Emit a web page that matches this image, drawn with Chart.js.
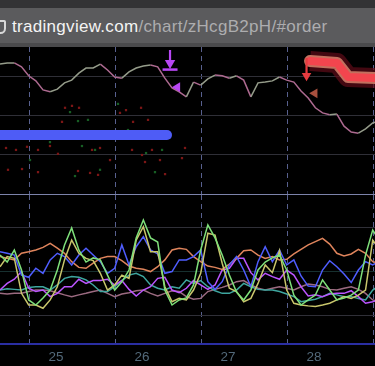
<!DOCTYPE html>
<html><head><meta charset="utf-8">
<script src="https://cdn.jsdelivr.net/npm/chart.js@4"></script>
<style>
html,body{margin:0;padding:0;background:#000;width:375px;height:366px;overflow:hidden}
#bar{position:absolute;left:0;top:0;width:375px;height:47px;background:#333335}
#pill{position:absolute;left:-14px;top:8px;width:400px;height:35px;background:#5b5b5d;border-radius:9px}
#strip{position:absolute;left:0;top:43px;width:375px;height:4px;background:#4a4a4c}
#shield{position:absolute;left:-5px;top:20px;width:7px;height:10px;border:2px solid #d8d8d8;border-radius:2px 2px 6px 6px}
#url{position:absolute;left:12px;top:17px;font-family:"Liberation Sans",Arial,sans-serif;font-size:17px;line-height:20px;letter-spacing:0.3px;color:#adadaf;white-space:nowrap}
#url span{color:#f4f4f4}
#w1{position:absolute;left:0;top:47px;width:375px;height:148px}
#w2{position:absolute;left:0;top:195px;width:375px;height:171px}
</style></head>
<body>
<div id="bar"><div id="pill"></div><div id="strip"></div><div id="shield"></div>
<div id="url"><span>tradingview.com</span>/chart/zHcgB2pH/#order</div></div>
<div id="w1"><canvas id="c1" width="375" height="148"></canvas></div>
<div id="w2"><canvas id="c2" width="375" height="171"></canvas></div>
<script>
// ---- axis / time data ----
const xMin = 24.35, xMax = 28.71;
const sampleStart = 24.35;
const sampleStepDays = 1 / 12;           // 2-hour samples
const dayTicks = [25, 26, 27, 28];
const sessionBreaks = [24.698, 25.698, 26.698, 27.698, 28.698];
const priceGrid = [10, 20, 30];
const oscGrid = [30, 50, 70];

// ---- price pane ----
const price = [33.3,33.6,33.6,32.6,30.3,29.0,26.7,26.2,26.9,28.5,
 29.2,31.0,32.3,32.3,33.3,31.8,30.0,29.7,31.3,32.3,
 32.8,33.1,32.6,29.7,27.2,26.2,24.9,28.7,27.9,29.5,
 30.5,30.3,29.7,30.3,29.2,24.9,28.5,28.7,29.0,30.0,
 29.2,28.7,26.4,24.6,22.1,20.8,20.3,20.5,17.4,15.9,
 15.6,16.7,18.2,18.8];

const blueBarDays = [24.2, 26.292];
const blueBarLevel = [15.13, 15.13];

const redBandDays = [27.955, 28.269, 28.397, 28.769];
const redBandLevel = [34.1, 33.6, 30.0, 29.7];

const magShaftDays = [26.327, 26.327];
const magShaftLevel = [36.9, 34.1];
const magHead = {x: 26.327, y: 33.6};
const magBase = {x: 26.327, y: 31.9};
const magTri = {x: 26.412, y: 27.4};

const redShaftDays = [27.914, 27.914];
const redShaftLevel = [34.9, 30.9];
const redHead = {x: 27.914, y: 30.3};
const redTri = {x: 28.009, y: 25.8};

const speckRedDay = [25.106,25.187,25.269,25.071,25.745,25.815,25.99,25.897,26.071,24.42,24.536,24.664,24.792,24.931,25.024,25.42,25.513,25.885,26.001,26.117,26.21,24.443,24.606,24.792,25.257,25.397,25.49,26.036,26.269,26.466,26.501,25.629];
const speckRedLevel = [22.1,22.6,22.1,18.5,20.8,21.5,22.1,18.5,19.0,11.8,11.3,12.1,11.3,12.3,10.3,11.3,11.8,11.3,10.0,11.3,8.7,6.2,6.4,5.6,5.9,5.4,4.9,8.2,5.1,9.2,11.8,8.7];
const speckGreenDay = [25.164,25.257,25.373,25.303,25.455,24.931,25.722,25.838,26.048,25.513,25.222,26.152,26.234,24.699];
const speckGreenLevel = [21.0,18.7,19.0,12.3,11.3,13.3,23.1,16.4,10.5,6.2,4.6,5.6,11.3,8.7];

// ---- oscillator pane ----
const oscOrange = [57.0,56.2,55.5,58.5,59.2,60.0,61.2,63.0,60.8,58.5,
 54.7,52.1,51.7,54.0,56.2,57.0,57.0,55.2,52.7,51.7,
 51.2,50.2,52.4,55.5,60.0,60.8,60.3,57.0,54.7,52.7,
 52.1,51.2,53.6,56.2,59.7,60.0,57.7,56.2,57.0,55.5,
 55.8,58.2,60.3,62.3,63.8,65.3,62.7,58.5,57.3,58.2,
 60.3,58.5,54.7,53.8];
const oscBlue = [59.2,58.5,57.7,48.6,47.6,51.7,49.4,55.5,58.5,57.0,
 53.2,57.7,60.8,57.7,54.7,49.4,51.7,62.3,53.2,61.5,
 66.1,60.0,58.2,49.4,50.2,55.5,55.5,57.0,60.0,45.6,
 42.1,45.6,53.2,57.0,50.9,43.3,54.7,61.5,54.7,60.0,
 53.2,55.5,48.2,43.6,43.3,50.9,55.1,52.4,49.1,45.2,
 50.9,54.7,53.2,55.0];
const oscLime = [57.7,54.5,60.0,50.9,37.3,35.0,38.2,41.8,50.9,62.3,
 70.0,60.0,54.5,56.4,55.5,48.6,41.8,45.5,50.9,65.5,
 73.6,65.5,63.6,41.8,35.0,37.3,38.2,44.1,60.0,71.4,
 65.5,57.7,48.6,40.9,37.3,41.8,50.9,54.5,56.4,57.7,
 50.9,39.5,35.0,37.3,39.5,46.4,41.8,37.3,38.2,39.5,
 41.8,57.7,69.1,64.0];
const oscOlive = [52.4,57.0,56.2,40.3,35.0,35.0,33.5,37.3,43.3,55.5,
 64.5,58.5,56.2,55.2,49.4,41.8,44.1,48.6,47.1,64.5,
 70.6,59.2,59.2,43.3,36.5,38.0,37.3,41.8,49.4,67.6,
 66.8,54.0,42.6,41.1,36.5,38.0,44.8,53.2,49.7,59.7,
 41.8,35.8,35.0,34.6,34.3,35.0,35.8,37.3,38.8,38.0,
 39.5,41.8,64.5,60.0];
const oscViolet = [41.8,44.8,46.7,50.2,42.6,41.1,41.8,38.8,40.3,43.3,
 43.3,46.7,44.8,46.1,46.1,46.7,44.1,46.1,42.1,39.1,
 41.8,43.3,47.1,47.6,41.8,40.6,42.6,46.1,44.1,42.1,
 44.1,50.9,51.7,56.2,56.2,49.7,46.4,49.4,47.9,46.7,
 50.9,48.6,43.3,39.1,39.6,38.8,40.0,40.3,40.3,41.5,
 38.8,35.8,36.5,37.5];
const oscTeal = [41.8,42.4,42.1,41.8,43.0,43.3,43.3,41.8,44.1,47.1,
 47.9,47.6,46.4,44.1,41.1,41.1,43.3,46.1,48.6,49.4,
 47.9,44.1,42.6,41.8,43.3,42.6,46.4,44.8,46.1,43.3,
 41.5,40.3,40.3,41.8,44.8,43.3,42.1,41.8,41.8,41.1,
 40.0,38.8,36.5,37.0,37.6,38.8,40.3,39.6,38.8,38.8,
 38.0,37.3,41.8,44.0];
const oscMauve = [40.3,40.0,40.3,40.3,41.1,41.8,41.8,41.5,40.6,39.6,
 38.8,39.6,40.3,41.1,41.8,40.3,38.8,40.0,40.6,41.5,
 41.8,40.3,39.1,40.3,41.5,41.1,38.8,37.6,38.0,41.1,
 42.1,43.0,44.1,45.6,46.1,44.1,42.6,41.8,42.6,43.3,
 42.6,41.8,43.3,44.5,44.1,43.3,42.1,41.8,42.6,43.3,
 42.1,40.3,37.3,36.5];

// ---- helpers ----
const timed = arr => arr.map((v, i) => ({x: sampleStart + i * sampleStepDays, y: v}));
const pairs = (xs, ys) => xs.map((x, i) => ({x, y: ys[i]}));

Chart.defaults.font.family = '"Liberation Sans", Arial, sans-serif';
const gridGray = '#2f2f37';
const dashColor = '#58608e';

function sessionAxis() {
  return {
    type: 'linear', position: 'top', min: xMin, max: xMax,
    afterBuildTicks: s => { s.ticks = sessionBreaks.map(v => ({value: v})); },
    afterFit: s => { s.height = 0; },
    ticks: {display: false},
    grid: {display: true, drawTicks: false, color: dashColor, lineWidth: 1},
    border: {display: false, dash: [5, 4]}
  };
}
const common = {
  responsive: false, animation: false, devicePixelRatio: 1, events: [],
  plugins: {legend: {display: false}, tooltip: {enabled: false}},
  elements: {point: {radius: 0}, line: {tension: 0}}
};

const magenta = '#b847f4';
const redArrow = '#e53b3f';

new Chart(document.getElementById('c1'), {
  type: 'line',
  data: {datasets: [
    {data: pairs(magShaftDays, magShaftLevel), borderColor: magenta, borderWidth: 2.2, pointRadius: 0},
    {data: [magHead], showLine: false, pointStyle: 'triangle', rotation: 180, pointRadius: 6, backgroundColor: magenta, borderWidth: 0},
    {data: [magBase], showLine: false, pointStyle: 'line', pointRadius: 7.5, borderColor: magenta, borderWidth: 2.5},
    {data: [magTri], showLine: false, pointStyle: 'triangle', rotation: 270, pointRadius: 5.5, backgroundColor: magenta, borderWidth: 0},
    {data: pairs(redShaftDays, redShaftLevel), borderColor: redArrow, borderWidth: 2.2, pointRadius: 0},
    {data: [redHead], showLine: false, pointStyle: 'triangle', rotation: 180, pointRadius: 5.5, backgroundColor: redArrow, borderWidth: 0},
    {data: [redTri], showLine: false, pointStyle: 'triangle', rotation: 270, pointRadius: 5.5, backgroundColor: '#a8503e', borderWidth: 0},
    {data: pairs(redBandDays, redBandLevel), borderColor: '#f3454e', borderWidth: 8, borderCapStyle: 'round', borderJoinStyle: 'round', pointRadius: 0},
    {data: pairs(redBandDays, redBandLevel), borderColor: '#c2705e', borderWidth: 12, borderCapStyle: 'round', borderJoinStyle: 'round', pointRadius: 0},
    {data: pairs(redBandDays, redBandLevel), borderColor: 'rgba(95,12,24,0.7)', borderWidth: 20, borderCapStyle: 'butt', borderJoinStyle: 'round', pointRadius: 0},
    {data: pairs(blueBarDays, blueBarLevel), borderColor: '#4e5cf6', borderWidth: 10, borderCapStyle: 'round', pointRadius: 0},
    {data: timed(price), borderWidth: 1.5, pointRadius: 0, borderColor: '#a8668a',
     segment: {borderColor: c => c.p1.parsed.y >= c.p0.parsed.y ? '#959c8a' : '#ad6a90'}},
    {data: pairs(speckRedDay, speckRedLevel), showLine: false, pointStyle: 'rect', pointRadius: 1.6, backgroundColor: '#7c1616', borderWidth: 0},
    {data: pairs(speckGreenDay, speckGreenLevel), showLine: false, pointStyle: 'rect', pointRadius: 1.6, backgroundColor: '#175e24', borderWidth: 0}
  ]},
  options: Object.assign({}, common, {
    layout: {autoPadding: false, padding: {left: 0, right: 0, top: 0, bottom: 1}},
    scales: {
      x: {type: 'linear', position: 'bottom', min: xMin, max: xMax,
          afterFit: s => { s.height = 0; },
          ticks: {display: false}, grid: {display: false, drawTicks: false},
          border: {display: true, color: '#7c83aa', width: 1}},
      xg: sessionAxis(),
      y: {type: 'linear', min: 0, max: 37.69,
          afterBuildTicks: s => { s.ticks = priceGrid.map(v => ({value: v})); },
          afterFit: s => { s.width = 0; },
          ticks: {display: false}, grid: {drawTicks: false, color: gridGray}, border: {display: false}}
    }
  })
});

const oscSeries = [
  [oscLime, '#7fe07a'], [oscOlive, '#c9c66c'], [oscBlue, '#4f5dff'], [oscOrange, '#df845c'],
  [oscViolet, '#bb55ff'], [oscTeal, '#3ea69f'], [oscMauve, '#9b6a80']
];

new Chart(document.getElementById('c2'), {
  type: 'line',
  data: {datasets: oscSeries.map(([d, c]) => ({data: timed(d), borderColor: c, borderWidth: 1.5, pointRadius: 0}))},
  options: Object.assign({}, common, {
    layout: {autoPadding: false, padding: 0},
    scales: {
      x: {type: 'linear', position: 'bottom', min: xMin, max: xMax,
          afterBuildTicks: s => { s.ticks = dayTicks.map(v => ({value: v})); },
          afterFit: s => { s.height = 22; },
          ticks: {color: '#53697a', font: {size: 13.5}, padding: 5, maxRotation: 0, autoSkip: false, callback: v => String(v)},
          grid: {display: false, drawTicks: false},
          border: {display: true, color: '#2a2ea2', width: 2}},
      xg: sessionAxis(),
      y: {type: 'linear', min: 17.27, max: 85,
          afterBuildTicks: s => { s.ticks = oscGrid.map(v => ({value: v})); },
          afterFit: s => { s.width = 0; },
          ticks: {display: false},
          grid: {drawTicks: false, color: c => c.tick && c.tick.value === 50 ? '#17302f' : gridGray},
          border: {display: false}}
    }
  })
});
</script>
</body></html>
